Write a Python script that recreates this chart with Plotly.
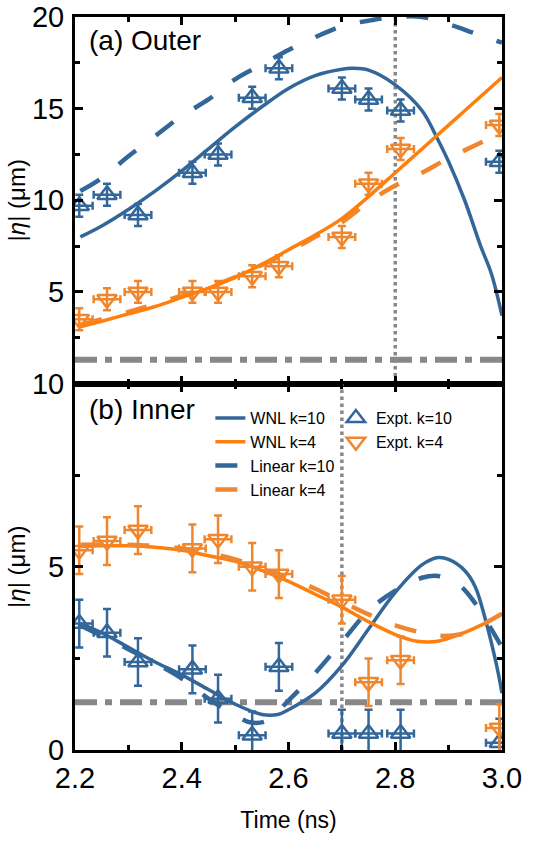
import plotly.graph_objects as go
from plotly.subplots import make_subplots

# ---------------- data ----------------
t_expt = [2.208, 2.260, 2.318, 2.420, 2.468, 2.532, 2.582, 2.700, 2.750, 2.810, 2.995]
t_err = [0.025] * 11

outer_expt_k10 = [9.7, 10.3, 9.2, 11.5, 12.5, 15.6, 17.2, 16.1, 15.5, 14.9, 12.1]
outer_expt_k4 = [3.5, 4.6, 5.0, 5.0, 5.0, 5.85, 6.4, 8.0, 10.9, 12.8, 14.1]
outer_err = [0.6] * 11

inner_expt_k10 = [3.45, 3.2, 2.4, 2.2, 1.4, 0.4, 2.27, 0.45, 0.45, 0.45, 0.2]
inner_expt_k4 = [5.45, 5.7, 6.0, 5.5, 5.75, 5.0, 4.8, 4.1, 1.85, 2.45, 0.6]
inner_err = [0.65] * 11

t_wnl_o10 = [2.21, 2.25, 2.30, 2.35, 2.40, 2.45, 2.50, 2.55, 2.60, 2.65, 2.70, 2.72, 2.75,
             2.80, 2.85, 2.88, 2.90, 2.93, 2.96, 2.98, 3.00]
wnl_o10 = [8.0, 8.6, 9.5, 10.5, 11.6, 12.8, 14.0, 15.1, 16.1, 16.8, 17.15, 17.2, 17.1,
           16.3, 14.9, 13.3, 12.1, 10.0, 7.5, 6.0, 3.7]

t_lin_o10 = [2.21, 2.25, 2.30, 2.35, 2.40, 2.45, 2.50, 2.55, 2.60, 2.65, 2.70, 2.75, 2.80,
             2.85, 2.90, 2.95, 3.00]
lin_o10 = [10.5, 11.2, 12.4, 13.5, 14.6, 15.5, 16.6, 17.4, 18.2, 18.9, 19.5, 19.8, 20.0,
           20.0, 19.6, 19.1, 18.6]

t_wnl_o4 = [2.21, 2.25, 2.30, 2.35, 2.40, 2.45, 2.50, 2.55, 2.60, 2.65, 2.70, 2.75, 2.80,
            2.85, 2.90, 2.95, 3.00]
wnl_o4 = [3.1, 3.4, 3.8, 4.2, 4.7, 5.2, 5.8, 6.5, 7.3, 8.1, 9.0, 10.2, 11.5,
          12.8, 14.1, 15.4, 16.7]

t_lin_o4 = [2.21, 2.30, 2.40, 2.50, 2.60, 2.65, 2.70, 2.75, 2.80, 2.85, 2.90, 2.95, 3.00]
lin_o4 = [3.2, 3.9, 4.8, 5.8, 7.2, 8.0, 8.8, 9.9, 10.8, 11.5, 12.3, 13.0, 13.7]

t_wnl_i10 = [2.21, 2.25, 2.30, 2.35, 2.40, 2.45, 2.50, 2.55, 2.58, 2.60, 2.65, 2.70, 2.75,
             2.80, 2.85, 2.88, 2.90, 2.93, 2.95, 2.97, 2.99, 3.00]
wnl_i10 = [3.45, 3.2, 2.8, 2.4, 2.05, 1.65, 1.25, 0.97, 0.97, 1.1, 1.55, 2.3, 3.3,
           4.3, 5.05, 5.25, 5.2, 4.9, 4.45, 3.5, 2.3, 1.55]

t_lin_i10 = [2.21, 2.30, 2.40, 2.45, 2.50, 2.53, 2.56, 2.60, 2.65, 2.70, 2.75, 2.80, 2.85,
             2.88, 2.92, 2.95, 2.98, 3.00]
lin_i10 = [3.4, 2.75, 1.95, 1.4, 0.95, 0.75, 0.8, 1.35, 2.1, 2.95, 3.8, 4.35, 4.7,
           4.75, 4.5, 4.0, 3.3, 2.8]

t_wnl_i4 = [2.21, 2.25, 2.30, 2.35, 2.40, 2.45, 2.50, 2.55, 2.60, 2.65, 2.70, 2.75, 2.80,
            2.84, 2.88, 2.92, 2.96, 3.00]
wnl_i4 = [5.55, 5.57, 5.57, 5.53, 5.45, 5.3, 5.15, 4.9, 4.6, 4.25, 3.9, 3.5, 3.15,
          2.97, 2.97, 3.15, 3.4, 3.72]

t_lin_i4 = [2.21, 2.30, 2.40, 2.50, 2.55, 2.60, 2.65, 2.70, 2.75, 2.80, 2.85, 2.88, 2.92,
            2.96, 3.00]
lin_i4 = [5.6, 5.6, 5.5, 5.2, 4.95, 4.7, 4.4, 4.05, 3.7, 3.4, 3.2, 3.12, 3.15, 3.4, 3.72]

threshold = 1.3
vline_outer = 2.8
vline_inner = 2.7

x_ticks = [2.2, 2.4, 2.6, 2.8, 3.0]
x_ticklabels = ["2.2", "2.4", "2.6", "2.8", "3.0"]
outer_ticks = [5, 10, 15, 20]
inner_ticks = [0, 5, 10]

# ---------------- styling ----------------
BLUE = "#336699"
ORANGE = "#FF7F0E"
ORANGE2 = "#F0862D"
GRAY = "#888888"
FONT = "Liberation Sans, Arial, sans-serif"
DASH = "22px,25px"
DASHDOT = "22px,8px,7px,8px"

fig = make_subplots(rows=2, cols=1, shared_xaxes=True, vertical_spacing=0)


def add_line(row, x, y, color, dash, width, name, show):
    fig.add_trace(go.Scatter(x=x, y=y, mode="lines", name=name,
                             line=dict(color=color, width=width, dash=dash, shape="spline"),
                             showlegend=show, legend="legend"), row=row, col=1)


def add_expt(row, x, y, err, color, symbol, name, show):
    fig.add_trace(go.Scatter(
        x=x, y=y, mode="markers", name=name, showlegend=show, legend="legend2",
        marker=dict(symbol=symbol, size=17, color=color,
                    line=dict(color=color, width=2.5)),
        error_y=dict(type="data", array=err, visible=True, color=color, thickness=2.5, width=4),
        error_x=dict(type="data", array=t_err, visible=True, color=color, thickness=2.5, width=4),
    ), row=row, col=1)


# reference lines
for row, vx, ymax in [(1, vline_outer, 20), (2, vline_inner, 10)]:
    fig.add_trace(go.Scatter(x=[2.2, 3.0], y=[threshold, threshold], mode="lines",
                             line=dict(color=GRAY, width=6, dash=DASHDOT),
                             showlegend=False, hoverinfo="skip"), row=row, col=1)
    fig.add_trace(go.Scatter(x=[vx, vx], y=[0, ymax], mode="lines",
                             line=dict(color=GRAY, width=3.5, dash="3.5px,3.5px"),
                             showlegend=False, hoverinfo="skip"), row=row, col=1)

# panel (a)
add_line(1, t_lin_o4, lin_o4, ORANGE2, DASH, 4.5, "Linear k=4", False)
add_line(1, t_lin_o10, lin_o10, BLUE, DASH, 4.5, "Linear k=10", False)
add_expt(1, t_expt, outer_expt_k10, outer_err, BLUE, "triangle-up-open", "Expt. k=10", False)
add_expt(1, t_expt, outer_expt_k4, outer_err, ORANGE2, "triangle-down-open", "Expt. k=4", False)
add_line(1, t_wnl_o10, wnl_o10, BLUE, "solid", 3.5, "WNL k=10", False)
add_line(1, t_wnl_o4, wnl_o4, ORANGE, "solid", 3.5, "WNL k=4", False)

# panel (b)
add_line(2, t_wnl_i10, wnl_i10, BLUE, "solid", 3.5, "WNL k=10", True)
add_line(2, t_wnl_i4, wnl_i4, ORANGE, "solid", 3.5, "WNL k=4", True)
add_line(2, t_lin_i10, lin_i10, BLUE, DASH, 4.5, "Linear k=10", True)
add_line(2, t_lin_i4, lin_i4, ORANGE2, DASH, 4.5, "Linear k=4", True)
add_expt(2, t_expt, inner_expt_k10, inner_err, BLUE, "triangle-up-open", "Expt. k=10", True)
add_expt(2, t_expt, inner_expt_k4, inner_err, ORANGE2, "triangle-down-open", "Expt. k=4", True)

axis_common = dict(showline=True, linewidth=3, linecolor="black", mirror="allticks",
                   ticks="inside", ticklen=8, tickwidth=2.5, tickcolor="black",
                   showgrid=False, zeroline=False, automargin=False,
                   ticklabeloverflow="allow",
                   tickfont=dict(family=FONT, size=29, color="black"))

fig.update_xaxes(range=[2.2, 3.0], tickvals=x_ticks, ticktext=x_ticklabels,
                 minor=dict(dtick=0.1, tick0=2.2, ticks="inside", ticklen=5, tickwidth=2.5,
                            tickcolor="black", showgrid=False),
                 **axis_common)
fig.update_xaxes(showticklabels=False, row=1, col=1)
fig.update_xaxes(title=dict(text="Time (ns)", font=dict(family=FONT, size=23, color="black"),
                            standoff=20), ticklabelstandoff=0, row=2, col=1)

ytitle = "|<i>η</i>| (μm)"
fig.update_yaxes(range=[0, 20], tickvals=outer_ticks,
                 minor=dict(dtick=2.5, tick0=0, ticks="inside", ticklen=5, tickwidth=2.5,
                            tickcolor="black", showgrid=False),
                 title=dict(text=ytitle, font=dict(family=FONT, size=24, color="black"), standoff=0),
                 ticklabelstandoff=2, row=1, col=1, **axis_common)
fig.update_yaxes(range=[0, 10], tickvals=inner_ticks,
                 minor=dict(dtick=2.5, tick0=0, ticks="inside", ticklen=5, tickwidth=2.5,
                            tickcolor="black", showgrid=False),
                 title=dict(text=ytitle, font=dict(family=FONT, size=24, color="black"), standoff=0),
                 ticklabelstandoff=2, row=2, col=1, **axis_common)

fig.add_annotation(text="(a) Outer", xref="x domain", yref="y domain", x=0.028, y=0.935,
                   xanchor="left", yanchor="middle", showarrow=False,
                   font=dict(family=FONT, size=28, color="black"))
fig.add_annotation(text="(b) Inner", xref="x2 domain", yref="y2 domain", x=0.028, y=0.93,
                   xanchor="left", yanchor="middle", showarrow=False,
                   font=dict(family=FONT, size=28, color="black"))

legend_font = dict(family=FONT, size=16, color="black")
fig.update_layout(
    width=555, height=841,
    margin=dict(l=75, r=53, t=17, b=91),
    plot_bgcolor="white", paper_bgcolor="white",
    font=dict(family=FONT, color="black"),
    legend=dict(x=0.317, y=0.476, xanchor="left", yanchor="top", font=legend_font,
                bgcolor="rgba(0,0,0,0)", tracegroupgap=0, itemwidth=30),
    legend2=dict(x=0.611, y=0.476, xanchor="left", yanchor="top", font=legend_font,
                 bgcolor="rgba(0,0,0,0)", tracegroupgap=0, itemwidth=30),
)

# remove the default page margin so the 555x841 figure fills the window exactly
fig.write_html("out.html",
               config={"displayModeBar": False},
               post_script="document.body.style.margin='0';document.body.style.overflow='hidden';")
